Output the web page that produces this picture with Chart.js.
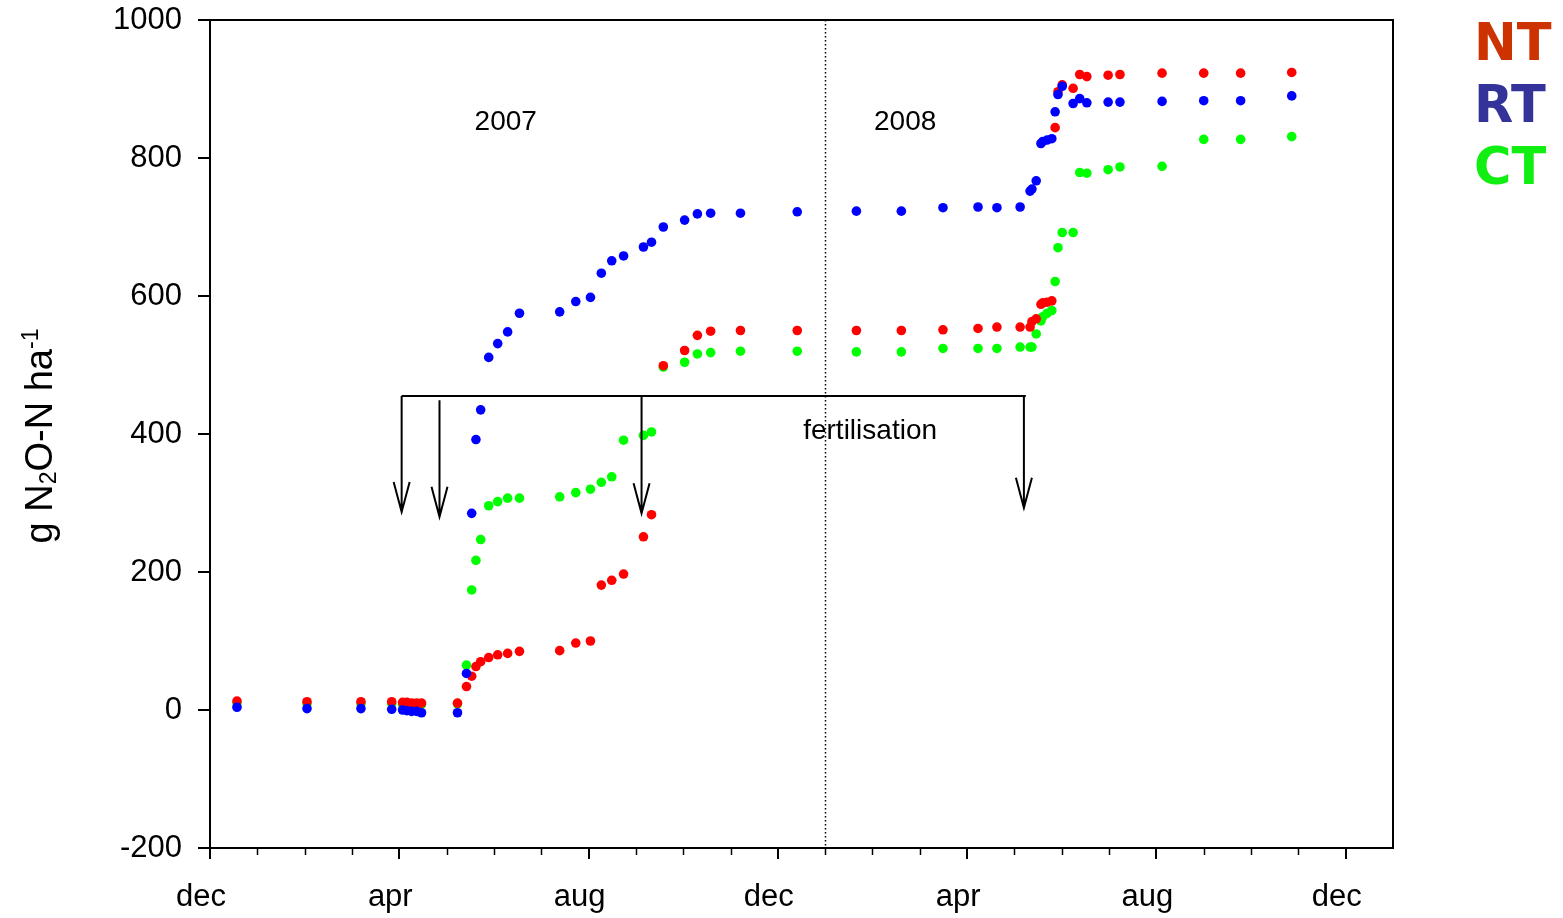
<!DOCTYPE html>
<html>
<head>
<meta charset="utf-8">
<title>N2O-N cumulative</title>
<script src="https://cdn.jsdelivr.net/npm/chart.js@4.4.1/dist/chart.umd.min.js"></script>
<style>
  html, body { margin: 0; padding: 0; background: #fff; }
  #chart { display: block; }
</style>
</head>
<body>
<canvas id="chart" width="1563" height="918"></canvas>
<script>
// months since 1 dec 2006
const months = [0.57, 2.05, 3.19, 3.84, 4.07, 4.16, 4.26, 4.37, 4.47, 5.23,
  5.42, 5.53, 5.62, 5.72, 5.89, 6.08, 6.29, 6.54, 7.39, 7.73,
  8.04, 8.27, 8.49, 8.74, 9.16, 9.33, 9.58, 10.03, 10.30, 10.58,
  11.21, 12.41, 13.66, 14.61, 15.49, 16.23, 16.63, 17.12, 17.33, 17.37,
  17.46, 17.56, 17.60, 17.69, 17.79, 17.86, 17.92, 18.01, 18.24, 18.38,
  18.53, 18.98, 19.23, 20.12, 21.00, 21.78, 22.86];

const nt = [13, 12, 12, 12, 11, 11, 10, 10, 10, 10,
  34, 49, 63, 70, 76, 80, 82, 85, 86, 97,
  100, 181, 188, 197, 251, 283, 499, 521, 543, 549,
  550, 550, 550, 550, 551, 553, 555, 555, 555, 563,
  567, 588, 590, 591, 593, 844, 896, 906, 901, 921,
  918, 920, 921, 923, 923, 923, 924];

const rt = [4, 2, 2, 1, 0, -1, -2, -2, -4, -4,
  53, 285, 392, 435, 511, 531, 548, 575, 577, 592,
  598, 633, 651, 658, 671, 678, 700, 710, 719, 720,
  720, 722, 723, 723, 728, 729, 728, 729, 752, 755,
  767, 821, 824, 826, 828, 867, 892, 904, 879, 886,
  880, 881, 881, 882, 883, 883, 890];

const ct = [10, 9, 9, 9, 8, 8, 8, 8, 8, 9,
  65, 174, 217, 247, 296, 302, 307, 307, 309, 315,
  320, 330, 338, 391, 398, 403, 497, 504, 516, 518,
  520, 520, 519, 519, 524, 524, 524, 526, 526, 526,
  545, 564, 570, 575, 579, 621, 670, 692, 692, 779,
  778, 783, 787, 788, 827, 827, 831];

const xTickValues = [0, 4, 8, 12, 16, 20, 24];
const xTickLabels = ['dec', 'apr', 'aug', 'dec', 'apr', 'aug', 'dec'];
const yTickStep = 200;

// annotations (data units)
const yearLabels = ['2007', '2008'];
const yearLabelX = [6.25, 14.69];
const yearLabelY = 852;
const yearBreak = 13;
const fertLabel = 'fertilisation';
const fertLabelPos = [13.95, 404];
const fertBarY = 455;
const fertBarX = [4.05, 17.24];
const fertArrowX = [4.05, 4.85, 9.12, 17.2];
const fertArrowTop = [455, 449, 455, 455];
const fertArrowTip = [287, 280, 285, 293];

const legendLabels = ['NT', 'RT', 'CT'];
const legendColors = ['#cc3300', '#333399', '#11ee11'];

const toPoints = (ys) => months.map((m, i) => ({ x: m, y: ys[i] }));

const FONT = '"Liberation Sans", Arial, sans-serif';

const extras = {
  id: 'extras',
  beforeDatasetsDraw(chart) {
    const { ctx, chartArea: a, scales: { x } } = chart;
    // year break, dotted
    const bx = Math.round(x.getPixelForValue(yearBreak)) + 0.5;
    ctx.save();
    ctx.strokeStyle = '#000';
    ctx.lineWidth = 1.5;
    ctx.setLineDash([1.5, 2.5]);
    ctx.beginPath();
    ctx.moveTo(bx, a.top);
    ctx.lineTo(bx, a.bottom);
    ctx.stroke();
    ctx.restore();
  },
  afterDraw(chart) {
    const { ctx, chartArea: a, scales: { x, y } } = chart;
    ctx.save();
    ctx.strokeStyle = '#000';
    ctx.fillStyle = '#000';

    // frame top / right
    ctx.lineWidth = 2;
    ctx.beginPath();
    ctx.moveTo(a.left, a.top);
    ctx.lineTo(a.right, a.top);
    ctx.lineTo(a.right, a.bottom);
    ctx.stroke();

    // minor month ticks
    ctx.lineWidth = 1.5;
    for (let m = 1; m < 25; m++) {
      if (m % 4 === 0) continue;
      const px = Math.round(x.getPixelForValue(m)) + 0.5;
      ctx.beginPath();
      ctx.moveTo(px, a.bottom);
      ctx.lineTo(px, a.bottom + 7);
      ctx.stroke();
    }

    // year labels
    ctx.font = '28px ' + FONT;
    ctx.textAlign = 'center';
    ctx.textBaseline = 'middle';
    yearLabels.forEach((t, i) => {
      ctx.fillText(t, x.getPixelForValue(yearLabelX[i]), y.getPixelForValue(yearLabelY));
    });
    ctx.fillText(fertLabel, x.getPixelForValue(fertLabelPos[0]), y.getPixelForValue(fertLabelPos[1]));

    // fertilisation bar + arrows
    ctx.lineWidth = 2;
    const barY = y.getPixelForValue(fertBarY);
    ctx.beginPath();
    ctx.moveTo(x.getPixelForValue(fertBarX[0]), barY);
    ctx.lineTo(x.getPixelForValue(fertBarX[1]), barY);
    ctx.stroke();
    fertArrowX.forEach((v, i) => {
      const px = x.getPixelForValue(v);
      const top = y.getPixelForValue(fertArrowTop[i]);
      const tip = y.getPixelForValue(fertArrowTip[i]);
      ctx.beginPath();
      ctx.moveTo(px, top);
      ctx.lineTo(px, tip);
      ctx.moveTo(px - 8, tip - 30);
      ctx.lineTo(px, tip);
      ctx.lineTo(px + 8, tip - 30);
      ctx.stroke();
    });

    // y title: g N2O-N ha-1
    ctx.translate(52, 436);
    ctx.rotate(-Math.PI / 2);
    ctx.textAlign = 'left';
    ctx.textBaseline = 'alphabetic';
    const big = '38px ' + FONT, small = '23px ' + FONT;
    const parts = [['g N', big, 0], ['2', small, 4], ['O-N ha', big, 0], ['-1', small, -14]];
    let w = 0;
    parts.forEach(p => { ctx.font = p[1]; w += ctx.measureText(p[0]).width; });
    let cx = -w / 2;
    parts.forEach(p => {
      ctx.font = p[1];
      ctx.fillText(p[0], cx, p[2]);
      cx += ctx.measureText(p[0]).width;
    });
    ctx.restore();

    // legend
    ctx.save();
    ctx.font = 'bold 51px "DejaVu Sans", sans-serif';
    ctx.textAlign = 'left';
    ctx.textBaseline = 'middle';
    legendLabels.forEach((t, i) => {
      ctx.fillStyle = legendColors[i];
      ctx.fillText(t, 1474, 47 + i * 62);
    });
    ctx.restore();
  }
};

new Chart(document.getElementById('chart'), {
  type: 'scatter',
  data: {
    datasets: [
      { label: 'RT', data: toPoints(rt), backgroundColor: '#0000ff', order: 0 },
      { label: 'NT', data: toPoints(nt), backgroundColor: '#ff0000', order: 1 },
      { label: 'CT', data: toPoints(ct), backgroundColor: '#00ff00', order: 2 }
    ]
  },
  options: {
    responsive: false,
    animation: false,
    devicePixelRatio: 1,
    layout: { padding: { top: 20, right: 170, left: 0, bottom: 0 } },
    elements: { point: { radius: 4.8, borderWidth: 0, hoverRadius: 4.8 } },
    plugins: { legend: { display: false }, tooltip: { enabled: false } },
    scales: {
      x: {
        type: 'linear',
        position: 'bottom',
        min: 0,
        max: 25,
        afterBuildTicks: (s) => { s.ticks = xTickValues.map(v => ({ value: v })); },
        afterFit: (s) => { s.height = 70; s.paddingLeft = 0; s.paddingRight = 0; },
        ticks: {
          autoSkip: false,
          maxRotation: 0,
          labelOffset: -9,
          padding: 20,
          color: '#000',
          font: { family: FONT, size: 31 },
          callback: (v, i) => xTickLabels[i]
        },
        grid: { drawOnChartArea: false, drawTicks: true, tickLength: 11, color: '#000', lineWidth: 2 },
        border: { display: true, color: '#000', width: 2 }
      },
      y: {
        min: -200,
        max: 1000,
        afterFit: (s) => { s.width = 210; s.paddingTop = 0; s.paddingBottom = 0; },
        ticks: {
          stepSize: yTickStep,
          padding: 16,
          color: '#000',
          font: { family: FONT, size: 31 },
          callback: (v) => String(v)
        },
        grid: { drawOnChartArea: false, drawTicks: true, tickLength: 12, color: '#000', lineWidth: 2 },
        border: { display: true, color: '#000', width: 2 }
      }
    }
  },
  plugins: [extras]
});
</script>
</body>
</html>
